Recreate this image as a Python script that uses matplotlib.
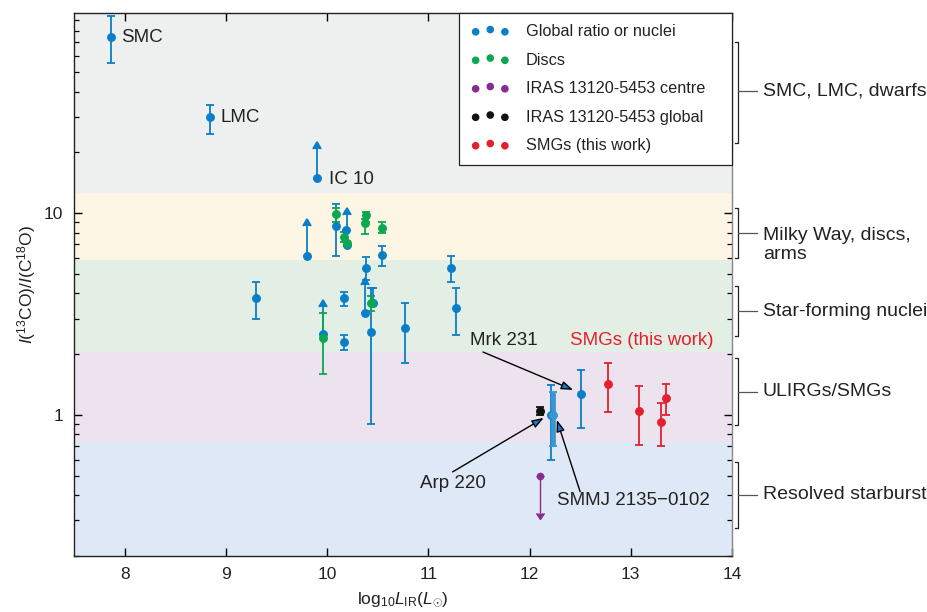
import numpy as np
import matplotlib
matplotlib.use('Agg')
import matplotlib.pyplot as plt
import matplotlib.transforms as mtransforms
from matplotlib.ticker import NullFormatter, FixedLocator, LogLocator

plt.rcParams['font.family'] = ['Liberation Sans', 'DejaVu Sans']
plt.rcParams['mathtext.fontset'] = 'custom'
plt.rcParams['mathtext.rm'] = 'Liberation Sans'
plt.rcParams['mathtext.it'] = 'Liberation Sans:italic'

# colours
c_blue = '#0a7fc8'
c_green = '#0aa84f'
c_purple = '#8a2b8f'
c_black = '#111111'
c_red = '#e4202e'

# global ratio or nuclei (x, y, lower end, upper end)
blue_x = [7.864, 8.843, 10.092, 10.188, 10.543, 10.388, 11.223, 9.302, 10.167, 10.167,
          10.449, 10.429, 10.771, 11.274, 12.209, 12.51]
blue_y = [74.3, 29.8, 8.65, 8.24, 6.17, 5.36, 5.36, 3.78, 3.78, 2.29,
          3.59, 2.58, 2.70, 3.39, 1.00, 1.27]
blue_lo = [55.3, 24.7, 6.15, 8.24, 5.47, 4.67, 4.57, 3.00, 3.48, 2.10,
           3.59, 0.90, 1.80, 2.49, 0.60, 0.865]
blue_hi = [94.5, 34.5, 11.1, 8.24, 6.87, 6.08, 6.11, 4.57, 4.08, 2.50,
           4.27, 4.27, 3.58, 4.27, 1.40, 1.66]
# SMMJ 2135-0102 (thick bar)
smmj_x = [12.229]
smmj_y = [1.00]
smmj_lo = [0.70]
smmj_hi = [1.30]
# blue lower limits (x, y, arrow tip)
bluelim_x = [9.900, 9.802, 10.198, 9.956, 10.378]
bluelim_y = [14.9, 6.15, 6.94, 2.51, 3.19]
bluelim_top = [20.7, 8.62, 9.78, 3.44, 4.40]

# discs
green_x = [10.092, 10.167, 10.198, 10.388, 10.378, 10.543, 9.956, 10.429]
green_y = [9.85, 7.58, 7.08, 9.74, 8.96, 8.46, 2.40, 3.60]
green_lo = [9.00, 7.20, 6.90, 9.06, 7.87, 7.96, 1.60, 3.28]
green_hi = [10.6, 8.04, 7.30, 10.15, 9.30, 9.00, 3.19, 3.88]

# IRAS 13120-5453
purple_x = [12.099]
purple_y = [0.50]
purple_tip = [0.326]
black_x = [12.099]
black_y = [1.05]
black_lo = [1.00]
black_hi = [1.10]

# SMGs (this work)
red_x = [12.78, 13.08, 13.30, 13.35]
red_y = [1.42, 1.05, 0.923, 1.21]
red_lo = [1.035, 0.713, 0.70, 1.00]
red_hi = [1.81, 1.39, 1.14, 1.42]

# shaded regimes
band_edges = [0.2, 0.735, 2.05, 5.85, 12.6, 98]
band_colors = ['#dfe8f6', '#ece3ef', '#e3efe5', '#fdf6e4', '#eef0ef']

# right-hand brackets
brk_lo = [22.2, 5.99, 2.46, 0.892, 0.276]
brk_hi = [70.2, 10.6, 4.35, 1.92, 0.585]
brk_mid = [40.2, 7.96, 3.27, 1.30, 0.402]
brk_text_y = [40.2, 6.95, 3.27, 1.30, 0.402]
brk_labels = ['SMC, LMC, dwarfs', 'Milky Way, discs,\narms', 'Star-forming nuclei',
              'ULIRGs/SMGs', 'Resolved starburst']

txt = '#222222'

fig = plt.figure(figsize=(9.28, 6.12), dpi=100)
ax = fig.add_axes([74 / 928, 1 - 556 / 612, (732 - 74) / 928, (556 - 13) / 612])
ax.set_yscale('log')
ax.set_xlim(7.5, 14)
ax.set_ylim(0.2, 98)

for i in range(len(band_colors)):
    ax.axhspan(band_edges[i], band_edges[i + 1], color=band_colors[i], lw=0, zorder=0)


def err(y, lo, hi):
    y = np.array(y)
    return [y - np.array(lo), np.array(hi) - y]


eb = dict(fmt='o', ms=5.4, elinewidth=1.3, capsize=3.2, capthick=1.3, zorder=3)
ax.errorbar(blue_x, blue_y, yerr=err(blue_y, blue_lo, blue_hi), color=c_blue, **eb)
ax.errorbar(smmj_x, smmj_y, yerr=err(smmj_y, smmj_lo, smmj_hi), color='#3a95d0',
            fmt='o', ms=5.4, elinewidth=3.4, capsize=3.2, capthick=1.3, zorder=3)
ax.errorbar(bluelim_x, bluelim_y, yerr=[np.zeros(len(bluelim_y)),
                                        np.array(bluelim_top) - np.array(bluelim_y)],
            lolims=True, color=c_blue, **eb)
ax.errorbar(green_x, green_y, yerr=err(green_y, green_lo, green_hi), color=c_green, **eb)
ax.errorbar(black_x, black_y, yerr=err(black_y, black_lo, black_hi), color=c_black, **eb)
ax.errorbar(purple_x, purple_y, yerr=[np.array(purple_y) - np.array(purple_tip), [0]],
            uplims=True, color=c_purple, fmt='o', ms=4.5, elinewidth=1.0, capsize=3, zorder=3)
ax.errorbar(red_x, red_y, yerr=err(red_y, red_lo, red_hi), color=c_red, **eb)

# labels next to points
fs = 13.5
ax.text(7.964, 74.3, 'SMC', fontsize=fs, va='center', color=txt)
ax.text(8.943, 29.8, 'LMC', fontsize=fs, va='center', color=txt)
ax.text(10.02, 14.6, 'IC 10', fontsize=fs, va='center', color=txt)
ax.text(12.40, 2.35, 'SMGs (this work)', fontsize=fs, va='center', color=c_red)

ap = dict(arrowstyle='-|>,head_length=0.7,head_width=0.25', fc=c_blue, ec='k',
          lw=1.0, shrinkA=0, shrinkB=0)
ax.text(11.413, 2.35, 'Mrk 231', fontsize=fs, va='center', color=txt)
ax.annotate('', xy=(12.43, 1.33), xytext=(11.54, 2.05), arrowprops=ap)
ax.text(10.919, 0.455, 'Arp 220', fontsize=fs, va='center', color=txt)
ax.annotate('', xy=(12.14, 0.966), xytext=(11.24, 0.522), arrowprops=ap)
ax.text(12.273, 0.375, 'SMMJ 2135\u22120102', fontsize=fs, va='center', color=txt)
ax.annotate('', xy=(12.27, 0.945), xytext=(12.50, 0.416), arrowprops=ap)

# brackets outside the axes
trans = mtransforms.blended_transform_factory(ax.transAxes, ax.transData)
xb = 1.0085
for lo, hi, mid, ty, lab in zip(brk_lo, brk_hi, brk_mid, brk_text_y, brk_labels):
    ax.plot([1.004, xb, xb, 1.004], [hi, hi, lo, lo], color='#222222', lw=0.9,
            transform=trans, clip_on=False)
    ax.plot([xb, 1.038], [mid, mid], color='#555555', lw=0.9,
            transform=trans, clip_on=False)
    ax.text(1.047, ty, lab, transform=trans, fontsize=14, va='center', color=txt,
            linespacing=1.2)

# axes styling
ax.set_xticks(range(8, 15))
ax.yaxis.set_major_locator(FixedLocator([1, 10]))
ax.set_yticklabels(['1', '10'])
ax.yaxis.set_minor_locator(LogLocator(base=10, subs=np.arange(2, 10)))
ax.yaxis.set_minor_formatter(NullFormatter())
ax.tick_params(which='both', direction='in', top=True, right=True,
               labelsize=12.5, labelcolor=txt, pad=8)
ax.tick_params(which='major', length=6, width=1)
ax.tick_params(which='minor', length=3.5, width=0.9)
for s in ax.spines.values():
    s.set_color('#222222')
    s.set_linewidth(1)
ax.spines['right'].set_color('#888888')

ax.set_xlabel(r'$\mathrm{log}_{10}L_{\mathrm{IR}}(L_{\odot})$', fontsize=12.5, color=txt, labelpad=6)
ax.set_ylabel(r'$I$($^{13}$CO)/$I$(C$^{18}$O)', fontsize=12.5, color=txt, labelpad=4)

# legend
handles = []
for c, lab in [(c_blue, 'Global ratio or nuclei'), (c_green, 'Discs'),
               (c_purple, 'IRAS 13120-5453 centre'), (c_black, 'IRAS 13120-5453 global'),
               (c_red, 'SMGs (this work)')]:
    handles.append(ax.scatter([], [], s=20, color=c, label=lab))
leg = ax.legend(handles=handles, loc='upper left', bbox_to_anchor=(0.5857, 0, 0.4143, 1),
                mode='expand', borderaxespad=0, scatterpoints=3,
                scatteryoffsets=[0.4, 0.6, 0.4],
                fontsize=11.7, frameon=True, fancybox=False, framealpha=1,
                edgecolor='#222222', labelspacing=0.83, handlelength=2.4,
                handletextpad=1.0, borderpad=0.7)
leg.get_frame().set_linewidth(0.9)
for t in leg.get_texts():
    t.set_color(txt)

fig.savefig('out.png', dpi=100)
